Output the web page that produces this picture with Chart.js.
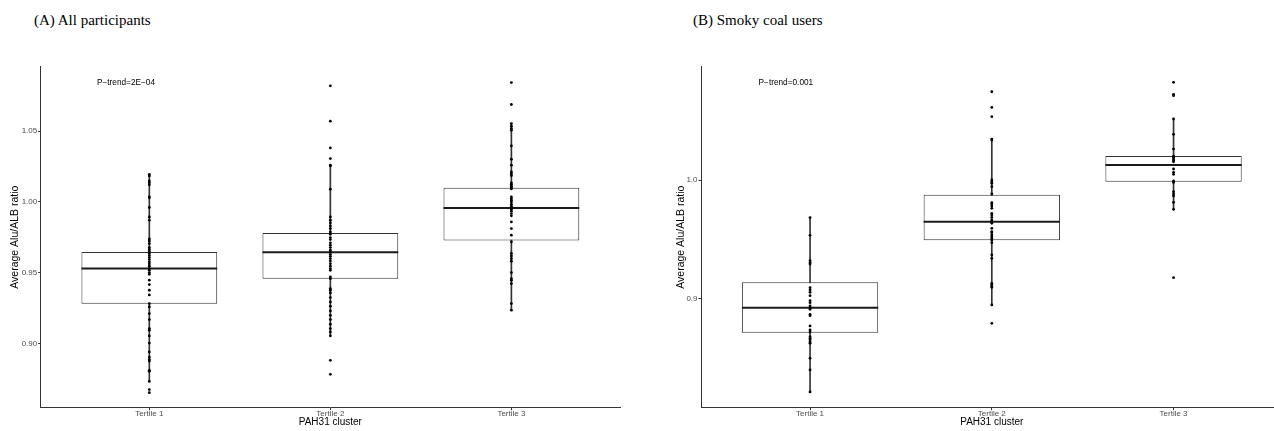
<!DOCTYPE html>
<html>
<head>
<meta charset="utf-8">
<title>Alu/ALB ratio by PAH31 cluster</title>
<script src="https://cdn.jsdelivr.net/npm/chart.js@4.4.1/dist/chart.umd.min.js"></script>
<style>
  html, body { margin: 0; padding: 0; background: #fff; }
  body { position: relative; width: 1274px; height: 431px; overflow: hidden; }
  .panel-title {
    position: absolute; top: 10px; line-height: 20px; white-space: nowrap;
    font-family: "Liberation Serif", "Times New Roman", serif; font-size: 15px; color: #000;
  }
  .chart-box { position: absolute; top: 0; height: 431px; }
</style>
</head>
<body>
<div class="panel-title" style="left:34px">(A) All participants</div>
<div class="panel-title" style="left:693px">(B) Smoky coal users</div>
<div class="chart-box" style="left:0; width:640px"><canvas id="chart-all"></canvas></div>
<div class="chart-box" style="left:660px; width:624px"><canvas id="chart-smoky"></canvas></div>

<script>
  // ---- datos ----
  const categories = ["Tertile 1", "Tertile 2", "Tertile 3"];

  // (A) All participants
  const allT1 = [1.0193, 1.0183, 1.0148, 1.0134, 1.0120, 1.0035, 1.0028, 0.9960, 0.9893, 0.9870,
    0.9738, 0.9724, 0.9705, 0.9677, 0.9663, 0.9649, 0.9634, 0.9620, 0.9606, 0.9592,
    0.9575, 0.9561, 0.9545, 0.9528, 0.9516, 0.9500, 0.9488, 0.9446, 0.9415, 0.9375,
    0.9342, 0.9281, 0.9257, 0.9210, 0.9168, 0.9104, 0.9092, 0.9052, 0.9002, 0.8939,
    0.8903, 0.8885, 0.8875, 0.8809, 0.8802, 0.8731, 0.8673, 0.8651];
  const allT2 = [1.0820, 1.0570, 1.0381, 1.0306, 1.0259, 1.0254, 1.0089, 0.9893, 0.9870, 0.9851,
    0.9830, 0.9811, 0.9787, 0.9771, 0.9747, 0.9733, 0.9710, 0.9693, 0.9677, 0.9658,
    0.9646, 0.9629, 0.9615, 0.9599, 0.9582, 0.9563, 0.9545, 0.9528, 0.9516, 0.9469,
    0.9457, 0.9387, 0.9375, 0.9356, 0.9323, 0.9292, 0.9262, 0.9229, 0.9198, 0.9168,
    0.9135, 0.9104, 0.9080, 0.9052, 0.8880, 0.8781];
  const allT3 = [1.0843, 1.0688, 1.0553, 1.0535, 1.0518, 1.0506, 1.0396, 1.0301, 1.0259, 1.0212,
    1.0200, 1.0186, 1.0134, 1.0124, 1.0110, 1.0101, 1.0091, 1.0035, 1.0023, 1.0011,
    0.9999, 0.9983, 0.9969, 0.9957, 0.9945, 0.9934, 0.9917, 0.9901, 0.9858, 0.9811,
    0.9764, 0.9717, 0.9635, 0.9618, 0.9599, 0.9580, 0.9500, 0.9457, 0.9446, 0.9422,
    0.9281, 0.9234];
  // [Q1, mediana, Q3] y [bigote inferior, bigote superior]
  const allBoxes = [[0.9280, 0.9528, 0.9646], [0.9457, 0.9644, 0.9780], [0.9727, 0.9957, 1.0099]];
  const allWhiskers = [[0.8731, 1.0193], [0.9052, 1.0259], [0.9234, 1.0553]];
  const allYTicks = [0.90, 0.95, 1.00, 1.05];
  const allYLabels = ["0.90", "0.95", "1.00", "1.05"];
  const allYRange = [0.8545, 1.0955];
  const allNote = { text: "P\u2212trend=2E\u221204", x: -0.129, y: 1.084 };

  // (B) Smoky coal users
  const smokyT1 = [0.9683, 0.9534, 0.9320, 0.9303, 0.9292, 0.9093, 0.9073, 0.9053, 0.9025, 0.8983,
    0.8966, 0.8938, 0.8924, 0.8910, 0.8868, 0.8857, 0.8770, 0.8736, 0.8719, 0.8680,
    0.8666, 0.8652, 0.8635, 0.8624, 0.8497, 0.8399, 0.8214];
  const smokyT2 = [1.0744, 1.0612, 1.0534, 1.0345, 1.0337, 1.0000, 0.9986, 0.9972, 0.9944, 0.9882,
    0.9809, 0.9798, 0.9781, 0.9761, 0.9719, 0.9705, 0.9685, 0.9663, 0.9649, 0.9635,
    0.9593, 0.9565, 0.9556, 0.9537, 0.9522, 0.9508, 0.9494, 0.9472, 0.9368, 0.9340,
    0.9129, 0.9115, 0.9107, 0.9096, 0.8947, 0.8792];
  const smokyT3 = [1.0823, 1.0722, 1.0711, 1.0514, 1.0385, 1.0261, 1.0202, 1.0191, 1.0177, 1.0163,
    1.0154, 1.0093, 1.0065, 1.0048, 0.9992, 0.9980, 0.9902, 0.9882, 0.9865, 0.9812,
    0.9753, 0.9177];
  const smokyBoxes = [[0.8713, 0.8924, 0.9138], [0.9492, 0.9649, 0.9876], [0.9986, 1.0126, 1.0202]];
  const smokyWhiskers = [[0.8214, 0.9683], [0.8947, 1.0345], [0.9753, 1.0514]];
  const smokyYTicks = [0.9, 1.0];
  const smokyYLabels = ["0.9", "1.0"];
  const smokyYRange = [0.8081, 1.0955];
  const smokyNote = { text: "P\u2212trend=0.001", x: -0.133, y: 1.0817 };

  const SANS = "'Liberation Sans', Arial, Helvetica, sans-serif";

  function buildBoxChart(canvasId, cfg) {
    const boxData = cfg.boxes.map((b, i) => ({ x: i, y: [b[0], b[2]] }));
    const whiskerData = cfg.whiskers.map((w, i) => ({ x: i, y: [w[0], w[1]] }));
    const pointData = [];
    cfg.points.forEach((arr, i) => arr.forEach(v => pointData.push({ x: i, y: v })));

    // mediana (línea gruesa) encima de la caja, antes de los puntos
    const medianPlugin = {
      id: "medianLines",
      afterDatasetDraw(chart, args) {
        if (chart.data.datasets[args.index].label !== "box") return;
        const ctx = chart.ctx;
        const ys = chart.scales.y;
        ctx.save();
        ctx.strokeStyle = "#1a1a1a";
        ctx.lineWidth = 2;
        args.meta.data.forEach((bar, i) => {
          const { x, width } = bar.getProps(["x", "width"], true);
          const y = ys.getPixelForValue(cfg.boxes[i][1]);
          ctx.beginPath();
          ctx.moveTo(x - width / 2, y);
          ctx.lineTo(x + width / 2, y);
          ctx.stroke();
        });
        ctx.restore();
      }
    };

    const notePlugin = {
      id: "pTrend",
      afterDraw(chart) {
        const ctx = chart.ctx;
        ctx.save();
        ctx.font = "8.25px " + SANS;
        ctx.fillStyle = "#000";
        ctx.textAlign = "center";
        ctx.textBaseline = "middle";
        ctx.fillText(cfg.note.text, chart.scales.x.getPixelForValue(cfg.note.x),
          chart.scales.y.getPixelForValue(cfg.note.y));
        ctx.restore();
      }
    };

    return new Chart(document.getElementById(canvasId), {
      type: "bar",
      data: {
        datasets: [
          { type: "scatter", label: "points", data: pointData, order: 0,
            pointRadius: 1.4, pointBackgroundColor: "#000", pointBorderWidth: 0, pointHoverRadius: 1.4 },
          { label: "box", data: boxData, order: 1, grouped: false,
            categoryPercentage: 1, barPercentage: 0.75,
            backgroundColor: "#fff", borderColor: "#333", borderWidth: 1, borderSkipped: false },
          { label: "whisker", data: whiskerData, order: 2, grouped: false,
            barThickness: 1, backgroundColor: "#333", borderWidth: 0 }
        ]
      },
      options: {
        responsive: true,
        maintainAspectRatio: false,
        animation: false,
        events: [],
        layout: { padding: { top: 66.7, right: cfg.padRight, bottom: 0, left: 0 } },
        scales: {
          x: {
            type: "linear", min: -0.6, max: 2.6, offset: false,
            afterBuildTicks: s => { s.ticks = categories.map((c, i) => ({ value: i })); },
            afterFit: s => { s.height = 23.3; },
            ticks: { callback: v => categories[v], font: { family: SANS, size: 8 }, color: "#4d4d4d",
              padding: -1, maxRotation: 0, autoSkip: false },
            grid: { display: true, offset: false, drawOnChartArea: false, drawTicks: true, tickLength: 2.5, color: "#333" },
            border: { display: true, color: "#333", width: 1 },
            title: { display: true, text: "PAH31 cluster", color: "#000",
              font: { family: SANS, size: 10 }, padding: { top: 0, bottom: 2.5 } }
          },
          y: {
            min: cfg.yRange[0], max: cfg.yRange[1],
            afterBuildTicks: s => { s.ticks = cfg.yTicks.map(v => ({ value: v })); },
            afterFit: s => { s.width = cfg.yWidth; },
            ticks: { callback: (v, i) => cfg.yLabels[i], font: { family: SANS, size: 8 }, color: "#4d4d4d",
              padding: 1 },
            grid: { display: true, drawOnChartArea: false, drawTicks: true, tickLength: 2.5, color: "#333" },
            border: { display: true, color: "#333", width: 1 },
            title: { display: true, text: "Average Alu/ALB ratio", color: "#000",
              font: { family: SANS, size: 10.5 }, padding: { top: cfg.titlePad, bottom: 0 } }
          }
        },
        plugins: {
          legend: { display: false },
          tooltip: { enabled: false }
        }
      },
      plugins: [medianPlugin, notePlugin]
    });
  }

  buildBoxChart("chart-all", {
    points: [allT1, allT2, allT3], boxes: allBoxes, whiskers: allWhiskers,
    yTicks: allYTicks, yLabels: allYLabels, yRange: allYRange, note: allNote,
    padRight: 20, yWidth: 40.7, titlePad: 9.2
  });

  buildBoxChart("chart-smoky", {
    points: [smokyT1, smokyT2, smokyT3], boxes: smokyBoxes, whiskers: smokyWhiskers,
    yTicks: smokyYTicks, yLabels: smokyYLabels, yRange: smokyYRange, note: smokyNote,
    padRight: 0, yWidth: 41, titlePad: 14.7
  });
</script>
</body>
</html>
